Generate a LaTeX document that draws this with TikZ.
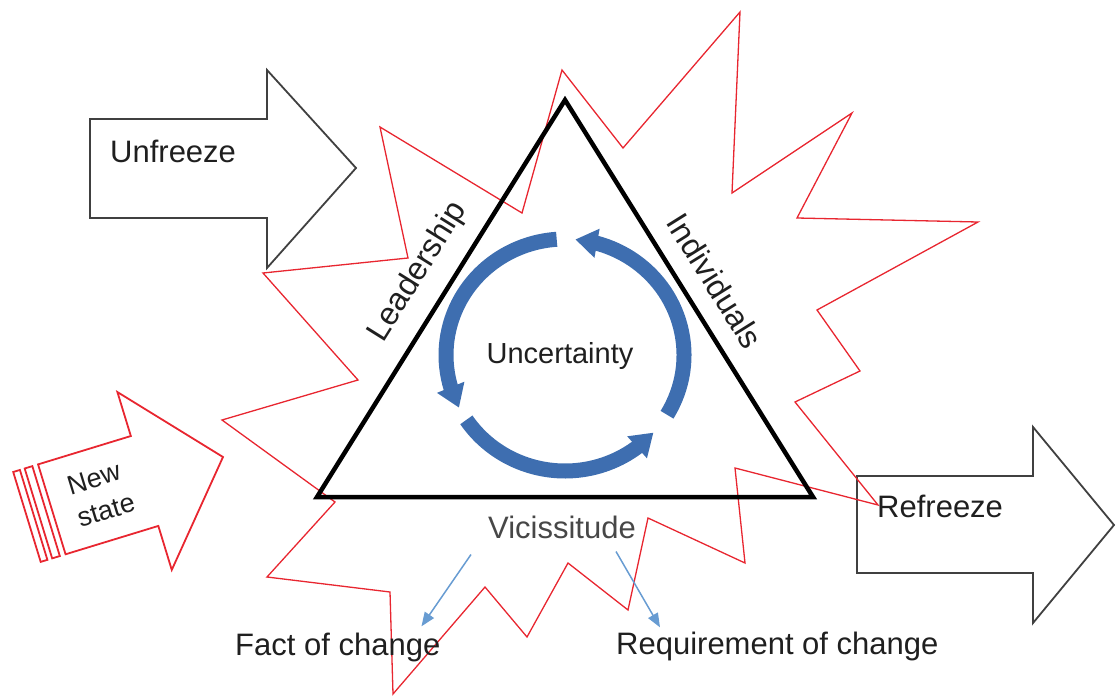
\documentclass[tikz,border=0pt]{standalone}
\usepackage{fontspec}
\setmainfont{Liberation Sans}
\usetikzlibrary{arrows.meta,bending}
\definecolor{burstred}{RGB}{232,38,48}
\definecolor{arrowgray}{RGB}{64,64,64}
\definecolor{cycblue}{RGB}{62,110,176}
\definecolor{thinblue}{RGB}{104,156,210}

\begin{document}
\begin{tikzpicture}[x=1pt, y=-1pt,
    blockarrow/.style={draw=arrowgray, line width=1.8, line join=miter},
    newarrow/.style={draw=burstred, line width=1.8, line join=miter},
    burst/.style={draw=burstred, line width=1.3, line join=miter},
    tri/.style={draw=black, line width=4.5, line join=miter},
    lbl/.style={inner sep=0pt, text=black!88, font=\fontsize{31}{37}\selectfont},
    cyclearc/.style={draw=cycblue, line width=15, -{Triangle[length=22pt, width=28pt]}},
    pointer/.style={draw=thinblue, line width=1.5, -{Triangle[length=14pt, width=11pt]}}]
    \useasboundingbox (0,0) rectangle (1116,698);

    % block arrows
    \draw[blockarrow] (857,476) -- (1033,476) -- (1033,427) -- (1114,525) -- (1033,623) -- (1033,573) -- (857,573) -- cycle;
    \draw[blockarrow] (90,119) -- (267,119) -- (267,70) -- (356,168) -- (267,268) -- (267,218) -- (90,218) -- cycle;
    \begin{scope}[shift={(223,457)}, rotate=17]
        \draw[newarrow] (0,0) -- (-82,-93) -- (-82,-47) -- (-179,-47) -- (-179,47) -- (-82,47) -- (-82,93) -- cycle;
        \draw[newarrow] (-205,-47) rectangle (-198,47);
        \draw[newarrow] (-193,-47) rectangle (-185,47);
    \end{scope}

    % starburst
    \draw[burst] (562,70) -- (623,148) -- (740,12) -- (732,193) -- (852,113) -- (797,218) -- (978,222)
        -- (817,310) -- (860,371) -- (795,402) -- (878,505) -- (735,468) -- (745,563) -- (648,518)
        -- (628,610) -- (568,563) -- (527,637) -- (485,587) -- (393,694) -- (390,592) -- (267,577)
        -- (335,502) -- (222,420) -- (358,380) -- (263,273) -- (408,258) -- (380,127) -- (522,213) -- cycle;

    % triangle
    \coordinate (apex) at (565,100);
    \coordinate (botleft) at (317,497);
    \coordinate (botright) at (813,497);
    \draw[tri] (apex) -- (botleft) -- (botright) -- cycle;

    % cycle of arrows
    \coordinate (ctr) at (565,355);
    \draw[cyclearc] ([shift={(-94:119 and 116)}]ctr) arc[start angle=-94, end angle=-207, x radius=119, y radius=116];
    \draw[cyclearc] ([shift={(-214:119 and 116)}]ctr) arc[start angle=-214, end angle=-318, x radius=119, y radius=116];
    \draw[cyclearc] ([shift={(-329:119 and 116)}]ctr) arc[start angle=-329, end angle=-445, x radius=119, y radius=116];

    % labels
    \node[lbl, anchor=base west] (unfreeze) at (110,162) {Unfreeze};
    \node[lbl, anchor=base west] (refreeze) at (877,517) {Refreeze};
    \node[lbl, font=\fontsize{27}{34}\selectfont, rotate=17, align=left] (newstate) at (101,494) {New\\state};
    \node[lbl, font=\fontsize{32}{38}\selectfont, rotate=58] (lead) at (418,272) {Leadership};
    \node[lbl, font=\fontsize{32}{38}\selectfont, rotate=-58] (indiv) at (715,281) {Individuals};
    \node[lbl, font=\fontsize{29}{35}\selectfont, anchor=base] (unc) at (560,363) {Uncertainty};
    \node[lbl, text=black!72, anchor=base] (vic) at (562,538) {Vicissitude};
    \node[lbl, anchor=base west] (fact) at (235,655) {Fact of change};
    \node[lbl, anchor=base west] (req) at (616,654) {Requirement of change};

    \draw[pointer] ([shift={(-17,16)}]vic.south west) -- ([shift={(-19,-6)}]fact.north east);
    \draw[pointer] ([shift={(-20,13)}]vic.south east) -- ([shift={(44,-4)}]req.north west);
\end{tikzpicture}
\end{document}
